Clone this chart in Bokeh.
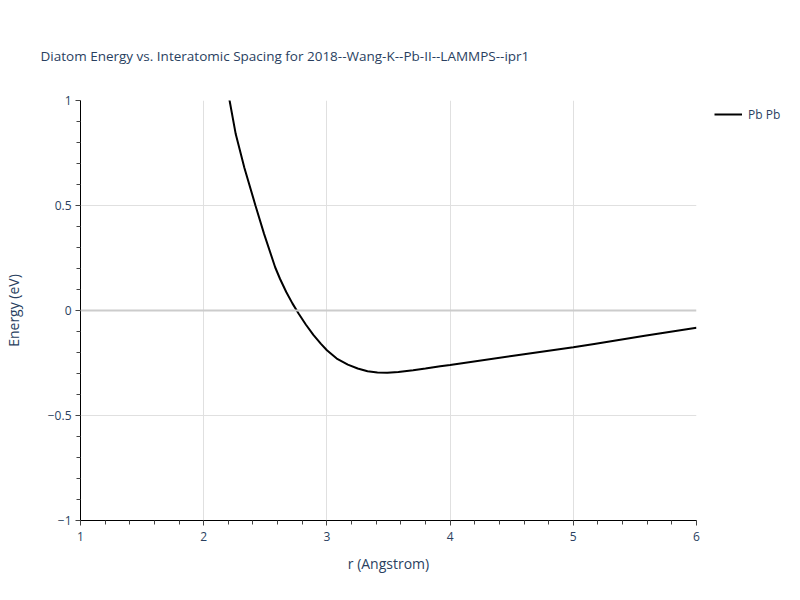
from bokeh.plotting import figure
from bokeh.models import Legend, LegendItem, Span, Title, FixedTicker
from bokeh.layouts import row
from bokeh.embed import file_html
from bokeh.resources import INLINE

title_text = "Diatom Energy vs. Interatomic Spacing for 2018--Wang-K--Pb-II--LAMMPS--ipr1"
series_name = "Pb Pb"
r = [2.15, 2.21, 2.26, 2.33, 2.42, 2.49, 2.58, 2.62, 2.67, 2.72, 2.77, 2.83,
     2.89, 2.95, 3.00, 3.08, 3.17, 3.25, 3.33, 3.41, 3.49, 3.58, 3.70, 3.80,
     3.92, 4.00, 4.50, 5.00, 5.17, 5.58, 6.00]
E = [1.20, 1.00, 0.84, 0.68, 0.50, 0.365, 0.206, 0.150, 0.088, 0.034, -0.014, -0.068,
     -0.116, -0.158, -0.189, -0.229, -0.258, -0.276, -0.289, -0.295, -0.297, -0.293,
     -0.284, -0.276, -0.265, -0.259, -0.217, -0.175, -0.159, -0.12, -0.082]
x_ticks = [1, 2, 3, 4, 5, 6]
y_ticks = [-1, -0.5, 0, 0.5, 1]
y_labels = {-1: "\u22121", -0.5: "\u22120.5", 0: "0", 0.5: "0.5", 1: "1"}

FONT = "Open Sans"
TXT = "#2a3f5f"

p = figure(width=710, height=600, x_range=(1, 6), y_range=(-1, 1),
           output_backend="svg", toolbar_location=None,
           min_border_left=80, min_border_right=14, min_border_top=100,
           min_border_bottom=80)
p.outline_line_color = None
p.background_fill_color = "white"

t = Title(text=title_text, align="left", offset=-40, text_font=FONT,
          text_font_size="13.5px", text_color=TXT, text_font_style="normal",
          vertical_align="top", standoff=68)
p.add_layout(t, "above")

ln = p.line(r, E, line_color="black", line_width=2)

p.xaxis.ticker = FixedTicker(ticks=x_ticks, minor_ticks=[1 + 0.2 * i for i in range(26)])
p.yaxis.ticker = FixedTicker(ticks=y_ticks, minor_ticks=[-1 + 0.1 * i for i in range(21)])
p.yaxis.major_label_overrides = y_labels

for ax in (p.xaxis, p.yaxis):
    ax.axis_line_color = "black"
    ax.axis_line_width = 1
    ax.major_tick_line_color = "#444444"
    ax.minor_tick_line_color = "#444444"
    ax.major_tick_out = 5
    ax.major_tick_in = 0
    ax.minor_tick_out = 4
    ax.minor_tick_in = 0
    ax.major_label_text_font = FONT
    ax.major_label_text_font_size = "12px"
    ax.major_label_text_color = TXT
    ax.axis_label_text_font = FONT
    ax.axis_label_text_font_size = "14px"
    ax.axis_label_text_color = TXT
    ax.axis_label_text_font_style = "normal"

p.xaxis.axis_label = "r (Angstrom)"
p.yaxis.axis_label = "Energy (eV)"
p.xaxis.axis_label_standoff = 10
p.yaxis.axis_label_standoff = 22
p.xaxis.major_label_standoff = 6
p.yaxis.major_label_standoff = 4

p.xgrid.grid_line_color = "#e0e0e0"
p.ygrid.grid_line_color = "#e0e0e0"
p.ygrid.ticker = FixedTicker(ticks=[-0.5, 0.5])
p.add_layout(Span(location=0, dimension="width", line_color="#cccccc", line_width=2))

# legend panel to the right of the plot area
q = figure(width=90, height=600, x_range=(100, 101), y_range=(100, 101),
           x_axis_type=None, y_axis_type=None,
           output_backend="svg", toolbar_location=None,
           min_border_left=4, min_border_top=100, min_border_right=0,
           min_border_bottom=0)
q.grid.visible = False
q.outline_line_color = None
ln2 = q.line(r, E, line_color="black", line_width=2)
legend = Legend(items=[LegendItem(label=series_name, renderers=[ln2])],
                location="top_left", margin=0, padding=0, glyph_width=28,
                glyph_height=28, label_standoff=6,
                label_text_font=FONT,
                label_text_font_size="12px", label_text_color=TXT,
                border_line_color=None, background_fill_alpha=0)
q.add_layout(legend)

open("out.html", "w").write(file_html(row(p, q), INLINE))
